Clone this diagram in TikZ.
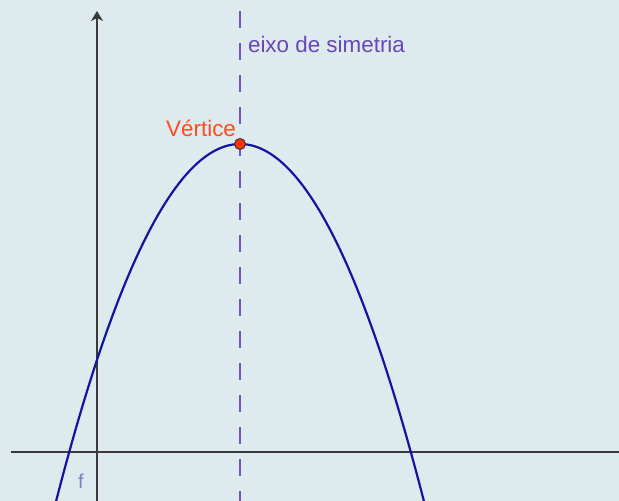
\documentclass[tikz,border=0pt]{standalone}
\usepackage{fontspec}
\setmainfont{Liberation Sans}
\usetikzlibrary{arrows.meta, positioning}
\definecolor{cbg}{HTML}{DDEBEE}
\definecolor{caxis}{HTML}{3A3A3A}
\definecolor{cblue}{HTML}{1414A0}
\definecolor{cpurple}{HTML}{7A52C6}
\definecolor{ctext}{HTML}{6A46B8}
\definecolor{corange}{HTML}{FF4A1E}
\definecolor{cred}{HTML}{FF3300}
\definecolor{cflabel}{HTML}{7C82C0}

\begin{document}
\begin{tikzpicture}[
  x=0.5pt, y=-0.5pt,
  axis/.style={draw=caxis, line width=1pt},
  curve/.style={draw=cblue, line width=1.1pt},
  symline/.style={draw=cpurple, line width=1.2pt, dash pattern=on 8.5pt off 7.5pt},
  vpoint/.style={
    circle, draw=black!80, fill=cred,
    line width=0.5pt, minimum size=5.5pt, inner sep=0pt
  },
  font=\fontsize{11.2}{13}\selectfont
]

% ============================================================
% Background and frame
\fill[cbg] (0,0) rectangle (619,501);
\useasboundingbox (0,0) rectangle (619,501);

% ============================================================
% Axes
\coordinate (xl) at (11,452);
\coordinate (xr) at (619,452);
\coordinate (yb) at (97,501);
\coordinate (yt) at (97,11);
\draw[axis] (xl) -- (xr);
\draw[axis, -{Stealth[length=5pt, width=6pt, inset=1.5pt]}] (yb) -- (yt);

% ============================================================
% Axis of symmetry (dashed)
\coordinate (st) at (240,11);
\coordinate (sb) at (240,501);
\draw[symline] (st) -- (sb);
\node[ctext, anchor=west] (eixo) at (241,45) {eixo de simetria};

% ============================================================
% Parabola f, vertex at (240,144)
\begin{scope}
  \clip (0,0) rectangle (619,501);
  \draw[curve] plot[domain=-19:19, samples=120, smooth]
    ({240+10*\x}, {144+1.056*\x*\x});
\end{scope}
\node[cflabel, font=\fontsize{10}{12}\selectfont] (f) at (81,481) {f};

% Vertex point and its label
\node[vpoint] (v) at (240,144) {};
\node[corange, anchor=east] (vlabel) at (243,128) {Vértice};

\end{tikzpicture}
\end{document}
